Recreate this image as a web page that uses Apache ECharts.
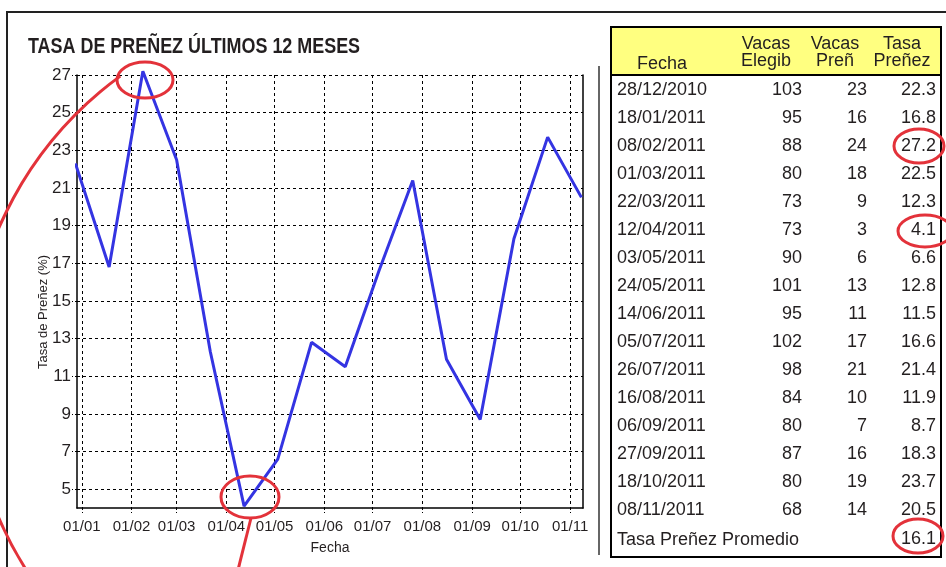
<!DOCTYPE html>
<html><head><meta charset="utf-8">
<script src="https://cdn.jsdelivr.net/npm/echarts@6/dist/echarts.min.js"></script>
<style>html,body{margin:0;padding:0;background:#fff}#c{width:946px;height:567px}</style>
</head><body><div id="c"></div>
<script>
// ---- data ----
const fechas = ['28/12/2010','18/01/2011','08/02/2011','01/03/2011','22/03/2011','12/04/2011','03/05/2011','24/05/2011','14/06/2011','05/07/2011','26/07/2011','16/08/2011','06/09/2011','27/09/2011','18/10/2011','08/11/2011'];
const vacasElegib = [103,95,88,80,73,73,90,101,95,102,98,84,80,87,80,68];
const vacasPren = [23,16,24,18,9,3,6,13,11,17,21,10,7,16,19,14];
const tasaPrenez = [22.3,16.8,27.2,22.5,12.3,4.1,6.6,12.8,11.5,16.6,21.4,11.9,8.7,18.3,23.7,20.5];
const tasaPromedio = 16.1;
const yTicks = [5,7,9,11,13,15,17,19,21,23,25,27];
const xTicks = ['01/01/2011','01/02/2011','01/03/2011','01/04/2011','01/05/2011','01/06/2011','01/07/2011','01/08/2011','01/09/2011','01/10/2011','01/11/2011'];
const xRange = ['29/12/2010','09/11/2011'];
const titulo = 'TASA DE PREÑEZ ÚLTIMOS 12 MESES';
const headers = [['Fecha'], ['Vacas','Elegib'], ['Vacas','Preñ'], ['Tasa','Preñez']];

// ---- helpers ----
const toTs = s => { const p = s.split('/'); return Date.UTC(+p[2], +p[1] - 1, +p[0]); };
const pad = n => (n < 10 ? '0' : '') + n;
const fmtTick = v => { const d = new Date(v); return pad(d.getUTCDate()) + '/' + pad(d.getUTCMonth() + 1); };
const SANS = "'Liberation Sans',Arial,sans-serif";
const TXT = '#231f20';
const RED = '#e3323a';

const lineData = fechas.map((f, i) => [toTs(f), tasaPrenez[i]]);
const xTickTs = xTicks.map(toTs);

// ---- table graphics ----
const tbl = [];
const T = {x: 611, y: 27, w: 330, h: 530, headH: 48};
tbl.push({type:'rect', shape:{x:T.x, y:T.y, width:T.w, height:T.headH}, style:{fill:'#ffff80'}, z:1});
tbl.push({type:'rect', shape:{x:T.x, y:T.y, width:T.w, height:T.h}, style:{fill:'none', stroke:'#000', lineWidth:2}, z:3});
tbl.push({type:'line', shape:{x1:T.x, y1:T.y+T.headH, x2:T.x+T.w, y2:T.y+T.headH}, style:{stroke:'#000', lineWidth:2}, z:3});
const colX = [662, 766, 835, 902];
headers.forEach((h, c) => {
  const lines = h.length;
  h.forEach((t, k) => {
    const yy = lines === 1 ? 64 : (k === 0 ? 44 : 61);
    tbl.push({type:'text', z:4, style:{text:t, x:colX[c], y:yy, font:'18px ' + SANS, fill:TXT, align:'center', textAlign:'center', verticalAlign:'middle', textVerticalAlign:'middle'}});
  });
});
const rowY0 = 90, rowStep = 28;
const txt = (t, x, y, al) => ({type:'text', z:4, style:{text:String(t), x:x, y:y, font:'18px ' + SANS, fill:TXT, align:al, textAlign:al, verticalAlign:'middle', textVerticalAlign:'middle'}});
fechas.forEach((f, i) => {
  const y = rowY0 + i * rowStep;
  tbl.push(txt(f, 617, y, 'left'));
  tbl.push(txt(vacasElegib[i], 802, y, 'right'));
  tbl.push(txt(vacasPren[i], 867, y, 'right'));
  tbl.push(txt(tasaPrenez[i].toFixed(1), 936, y, 'right'));
});
tbl.push(txt('Tasa Preñez Promedio', 617, 540, 'left'));
tbl.push(txt(tasaPromedio.toFixed(1), 936, 539, 'right'));

// ---- frames & annotations ----
const deco = [
  {type:'rect', shape:{x:7, y:12, width:1200, height:1000}, style:{fill:'none', stroke:'#222', lineWidth:2}, z:0},
  {type:'line', shape:{x1:599, y1:66, x2:599, y2:555}, style:{stroke:'#666', lineWidth:2}, z:0},
  {type:'text', z:5, x:28, y:47, scaleX:0.815, style:{text:titulo, x:0, y:0, font:'bold 22px ' + SANS, fill:TXT, align:'left', textAlign:'left', verticalAlign:'middle', textVerticalAlign:'middle'}},
  {type:'text', z:5, rotation:Math.PI/2, x:43, y:312, style:{text:'Tasa de Preñez (%)', x:0, y:0, font:'13px ' + SANS, fill:TXT, align:'center', textAlign:'center', verticalAlign:'middle', textVerticalAlign:'middle'}},
  {type:'ellipse', z:10, shape:{cx:145, cy:80, rx:28, ry:18}, style:{fill:'none', stroke:RED, lineWidth:3}},
  {type:'ellipse', z:10, shape:{cx:250, cy:497, rx:29, ry:21}, style:{fill:'none', stroke:RED, lineWidth:3}},
  {type:'line', z:10, shape:{x1:251, y1:518, x2:238, y2:570}, style:{stroke:RED, lineWidth:3}},
  {type:'arc', z:10, shape:{cx:336, cy:373, r:367, startAngle:140*Math.PI/180, endAngle:234*Math.PI/180, clockwise:true}, style:{fill:'none', stroke:RED, lineWidth:3}},
  {type:'ellipse', z:10, shape:{cx:919, cy:146, rx:25, ry:17}, style:{fill:'none', stroke:RED, lineWidth:3}},
  {type:'ellipse', z:10, shape:{cx:925, cy:231, rx:27, ry:16}, style:{fill:'none', stroke:RED, lineWidth:3}},
  {type:'ellipse', z:10, shape:{cx:918, cy:536, rx:25, ry:17}, style:{fill:'none', stroke:RED, lineWidth:3}}
];

const chart = echarts.init(document.getElementById('c'), null, {renderer:'canvas'});
chart.setOption({
  animation: false,
  backgroundColor: '#fff',
  grid: {left:77, right:363, top:75, bottom:59},
  xAxis: {
    type:'value', min:toTs(xRange[0]), max:toTs(xRange[1]),
    axisLine:{show:true, lineStyle:{color:'#000', width:1.5}},
    axisTick:{show:true, customValues:xTickTs, length:5, lineStyle:{color:'#000', type:[2,2]}},
    axisLabel:{customValues:xTickTs, formatter:fmtTick, fontSize:15, color:TXT, fontFamily:SANS, margin:11},
    splitLine:{show:true, lineStyle:{color:'#000', width:1, type:[3,3]}},
    name:'Fecha', nameLocation:'middle', nameGap:33,
    nameTextStyle:{fontSize:14, color:TXT, fontFamily:SANS}
  },
  yAxis: [{
    type:'value', min:4, max:27,
    axisLine:{show:true, lineStyle:{color:'#000', width:1.5}},
    axisTick:{show:true, customValues:yTicks, length:5, lineStyle:{color:'#000', type:[2,2]}},
    axisLabel:{customValues:yTicks, fontSize:17, color:TXT, fontFamily:SANS, margin:6},
    splitLine:{show:true, lineStyle:{color:'#000', width:1, type:[3,3]}}
  }, {
    type:'value', min:4, max:27, position:'right',
    axisLine:{show:true, lineStyle:{color:'#000', width:1.5}},
    axisTick:{show:false}, axisLabel:{show:false}, splitLine:{show:false}
  }],
  series: [{
    type:'line', data:lineData, showSymbol:false, symbol:'none', clip:false,
    lineStyle:{color:'#3434e2', width:3}, z:5
  }],
  graphic: {elements: deco.concat(tbl)}
});
</script>
</body></html>
